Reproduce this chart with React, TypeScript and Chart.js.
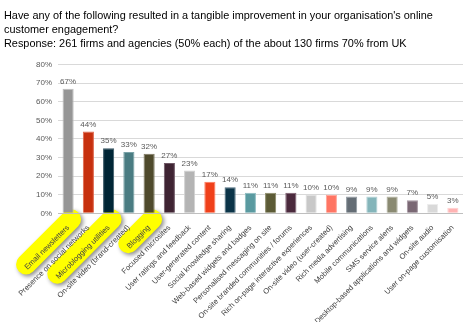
import React, { useEffect, useRef } from "react";
import { Chart, registerables } from "chart.js";
Chart.register(...registerables);

const titleLines = [
  "Have any of the following resulted in a tangible improvement in your organisation's online",
  "customer engagement?",
  "Response: 261 firms and agencies (50% each) of the about 130 firms 70% from UK",
];

const categories = [
  "Email newsletters",
  "Presence on social networks",
  "Microblogging utilities",
  "On-site video (brand-created)",
  "Blogging",
  "Focused microsites",
  "User ratings and feedback",
  "User-generated content",
  "Social knowledge sharing",
  "Web-based widgets and badges",
  "Personalised messaging on site",
  "On-site branded communities / forums",
  "Rich on-page interactive experiences",
  "On-site video (user-created)",
  "Rich media advertising",
  "Mobile communications",
  "SMS service alerts",
  "Desktop-based applications and widgets",
  "On-site audio",
  "User on-page customisation",
];

const values = [67, 44, 35, 33, 32, 27, 23, 17, 14, 11, 11, 11, 10, 10, 9, 9, 9, 7, 5, 3];

const barColors = [
  "#969696", "#c7300e", "#002636", "#4a7c82", "#4f4a2c",
  "#3f2433", "#b4b4b4", "#f0401a", "#0b3448", "#5a9aa0",
  "#5c5b36", "#4b2a3d", "#c8c8c8", "#ff7563", "#646d75",
  "#84b5ba", "#8a8a72", "#7a6874", "#d9d9d9", "#ffb3b3",
];

const borderColors = [
  "#bdbdbd", "#e0644a", "#3a5866", "#7aa3a8", "#7d7860",
  "#6e5765", "#d0d0d0", "#ff7a5c", "#47687a", "#8bbcc0",
  "#8a8966", "#7b5c6e", "#e0e0e0", "#ffa396", "#9099a0",
  "#b0d0d3", "#aeae9a", "#a495a0", "#ececec", "#ffd0d0",
];

const highlighted = [0, 2, 4];

const yTicks = [0, 10, 20, 30, 40, 50, 60, 70, 80];

const FONT = "'Liberation Sans', Arial, sans-serif";
const XFONT_SIZE = 7.6;

const highlightPlugin = {
  id: "highlight",
  beforeDraw(chart: any) {
    const ctx = chart.ctx;
    const xs = chart.scales.x;
    ctx.save();
    ctx.font = `${XFONT_SIZE}px ${FONT}`;
    const top = xs.top + 3;
    highlighted.forEach((i) => {
      const x = xs.getPixelForValue(i);
      const w = ctx.measureText(categories[i]).width;
      const d = w * Math.SQRT1_2;
      ctx.save();
      ctx.shadowColor = "rgba(0,0,0,0.45)";
      ctx.shadowBlur = 4;
      ctx.shadowOffsetX = 2;
      ctx.shadowOffsetY = 2;
      ctx.strokeStyle = "#ffff00";
      ctx.lineWidth = 20;
      ctx.lineCap = "round";
      ctx.beginPath();
      ctx.moveTo(x + 3, top + 3);
      ctx.lineTo(x - d, top + d + 6);
      ctx.stroke();
      ctx.restore();
    });
    ctx.restore();
  },
};

const dataLabelPlugin = {
  id: "dataLabels",
  afterDatasetsDraw(chart: any) {
    const ctx = chart.ctx;
    const meta = chart.getDatasetMeta(0);
    ctx.save();
    ctx.font = `8px ${FONT}`;
    ctx.fillStyle = "#595959";
    ctx.textAlign = "center";
    ctx.textBaseline = "bottom";
    meta.data.forEach((bar: any, i: number) => {
      ctx.fillText(values[i] + "%", bar.x, bar.y - 3);
    });
    ctx.restore();
  },
};

export default function App() {
  const ref = useRef<HTMLCanvasElement>(null);
  useEffect(() => {
    document.body.style.margin = "0";
    const chart = new Chart(ref.current!, {
      type: "bar",
      data: {
        labels: categories,
        datasets: [
          {
            data: values,
            backgroundColor: barColors,
            borderColor: borderColors,
            borderWidth: 1,
            barPercentage: 0.55,
            categoryPercentage: 1,
          },
        ],
      },
      options: {
        animation: false,
        responsive: false,
        layout: { padding: { left: 4, right: 4, top: 0, bottom: 0 } },
        plugins: {
          legend: { display: false },
          tooltip: { enabled: false },
          title: {
            display: true,
            text: titleLines,
            align: "start",
            color: "#000",
            font: { family: FONT, size: 10.9, weight: "normal", lineHeight: 1.3 },
            padding: { top: 8.6, bottom: 13.5 },
          },
        },
        scales: {
          x: {
            grid: { display: false },
            border: { display: false },
            ticks: {
              autoSkip: false,
              maxRotation: 45,
              minRotation: 45,
              color: "#404040",
              font: { family: FONT, size: XFONT_SIZE },
              padding: 2,
            },
            afterFit(scale: any) {
              scale.height = 108.7;
            },
          },
          y: {
            min: 0,
            max: 80,
            afterBuildTicks(scale: any) {
              scale.ticks = yTicks.map((v) => ({ value: v }));
            },
            grid: {
              color: (c: any) => (c.tick && c.tick.value === 0 ? "#bfbfbf" : "#d9d9d9"),
              drawTicks: false,
            },
            border: { display: false },
            ticks: {
              color: "#595959",
              font: { family: FONT, size: 8 },
              padding: 6,
              callback: (v: any) => v + "%",
            },
            afterFit(scale: any) {
              scale.width = 54;
            },
          },
        },
      },
      plugins: [highlightPlugin, dataLabelPlugin],
    } as any);
    return () => chart.destroy();
  }, []);
  return <canvas ref={ref} width={467} height={322} style={{ display: "block" }} />;
}
